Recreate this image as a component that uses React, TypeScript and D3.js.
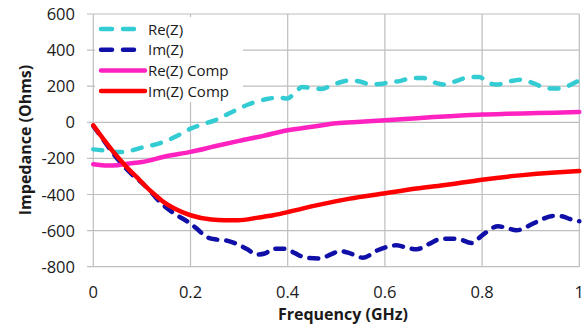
import React from 'react';
import * as d3 from 'd3';

// values
const reFreq = [0, 0.02, 0.04, 0.06, 0.08, 0.1, 0.12, 0.15, 0.18, 0.2, 0.22, 0.25, 0.28, 0.3, 0.32, 0.34, 0.36, 0.38, 0.4, 0.415, 0.43, 0.45, 0.47, 0.49, 0.51, 0.53, 0.55, 0.57, 0.59, 0.61, 0.63, 0.655, 0.68, 0.7, 0.72, 0.745, 0.775, 0.795, 0.81, 0.83, 0.857, 0.88, 0.908, 0.925, 0.94, 0.96, 0.98, 1.0];
const reZ = [-150, -155, -165, -165, -155, -140, -128, -103, -65, -35, -15, 11, 50, 76, 100, 118, 130, 138, 132, 165, 195, 190, 185, 205, 223, 233, 225, 210, 212, 222, 228, 245, 245, 222, 209, 227, 251, 251, 223, 209, 227, 236, 214, 195, 187, 187, 205, 233];

const imFreq = [0, 0.02, 0.04, 0.06, 0.08, 0.1, 0.12, 0.137, 0.167, 0.195, 0.21, 0.236, 0.255, 0.277, 0.3, 0.318, 0.335, 0.353, 0.37, 0.394, 0.415, 0.436, 0.466, 0.49, 0.508, 0.53, 0.555, 0.585, 0.605, 0.624, 0.645, 0.665, 0.69, 0.717, 0.748, 0.779, 0.8, 0.833, 0.85, 0.871, 0.905, 0.925, 0.946, 0.964, 0.98, 1.0];
const imZ = [-20, -95, -170, -235, -290, -335, -390, -441, -506, -552, -583, -639, -650, -657, -680, -705, -733, -727, -700, -700, -725, -750, -755, -730, -713, -728, -750, -709, -690, -681, -695, -704, -675, -645, -645, -669, -626, -576, -585, -598, -561, -535, -519, -521, -535, -548];

const reCompFreq = [0, 0.03, 0.05, 0.07, 0.1, 0.15, 0.2, 0.25, 0.3, 0.35, 0.4, 0.45, 0.5, 0.55, 0.6, 0.65, 0.7, 0.75, 0.8, 0.85, 0.9, 0.95, 1.0];
const reZComp = [-233, -240, -238, -230, -220, -188, -164, -133, -103, -75, -44, -25, -5, 3, 11, 20, 29, 36, 43, 47, 50, 53, 57];

const imCompFreq = [0, 0.02, 0.04, 0.061, 0.075, 0.09, 0.106, 0.126, 0.145, 0.167, 0.2, 0.243, 0.27, 0.298, 0.339, 0.37, 0.401, 0.43, 0.466, 0.528, 0.597, 0.665, 0.72, 0.8, 0.878, 0.95, 1.0];
const imZComp = [-17, -90, -160, -225, -266, -305, -350, -400, -442, -478, -515, -539, -543, -543, -528, -515, -497, -478, -456, -423, -395, -367, -349, -318, -294, -278, -270];

const xTicks = [0, 0.2, 0.4, 0.6, 0.8, 1];
const yTicks = [-800, -600, -400, -200, 0, 200, 400, 600];
const xTickLabels = ['0', '0.2', '0.4', '0.6', '0.8', '1'];

const series = [
    { name: 'Re(Z)', x: reFreq, y: reZ, color: '#33CCD2', dash: '9 11' },
    { name: 'Im(Z)', x: imFreq, y: imZ, color: '#1010A8', dash: '9 9' },
    { name: 'Re(Z) Comp', x: reCompFreq, y: reZComp, color: '#FF22C0', dash: null },
    { name: 'Im(Z) Comp', x: imCompFreq, y: imZComp, color: '#FF0000', dash: null },
];

const W = 587;
const H = 328;
const FONT = '"Open Sans", sans-serif';

const App = () => {
    const x = d3.scaleLinear().domain([0, 1]).range([93.3, 579.3]);
    const y = d3.scaleLinear().domain([-800, 600]).range([266.7, 14]);

    const line = d3.line<[number, number]>()
        .x(d => x(d[0]))
        .y(d => y(d[1]))
        .curve(d3.curveMonotoneX);

    const grid = '#BEBEBE';

    return (
        <svg width={W} height={H} style={{ position: 'absolute', left: 0, top: 0, background: '#fff' }}>
            {/* grid */}
            {yTicks.map(t => (
                <line key={'gy' + t} x1={87} x2={x(1)} y1={y(t)} y2={y(t)} stroke={grid} strokeWidth={1.2} />
            ))}
            {xTicks.map(t => (
                <line key={'gx' + t} x1={x(t)} x2={x(t)} y1={y(600)} y2={y(-800)} stroke={grid} strokeWidth={1.2} />
            ))}

            {/* tick labels */}
            {yTicks.map(t => (
                <text key={'ly' + t} x={75} y={y(t) + 6} textAnchor="end"
                    fontFamily={FONT} fontSize={16.5} fill="#1a1a1a">{t}</text>
            ))}
            {xTicks.map((t, i) => (
                <text key={'lx' + t} x={x(t)} y={298} textAnchor="middle"
                    fontFamily={FONT} fontSize={16.5} fill="#1a1a1a">{xTickLabels[i]}</text>
            ))}

            {/* axis titles */}
            <text x={343} y={320} textAnchor="middle" fontFamily={FONT} fontSize={16}
                fontWeight="bold" fill="#1a1a1a">Frequency (GHz)</text>
            <text transform="translate(31,140) rotate(-90)" textAnchor="middle" fontFamily={FONT}
                fontSize={16} fontWeight="bold" fill="#1a1a1a">Impedance (Ohms)</text>

            {/* series */}
            {series.map(s => (
                <path key={s.name}
                    d={line(s.x.map((f, i) => [f, s.y[i]] as [number, number])) || ''}
                    fill="none" stroke={s.color} strokeWidth={4.5}
                    strokeLinecap="round" strokeLinejoin="round"
                    strokeDasharray={s.dash || undefined} />
            ))}

            {/* legend */}
            <rect x={95} y={17} width={148} height={85} fill="#fff" />
            {series.map((s, i) => {
                const ly = 29 + i * 20.7;
                return (
                    <g key={'lg' + s.name}>
                        <line x1={101} x2={145} y1={ly} y2={ly} stroke={s.color} strokeWidth={4.5}
                            strokeLinecap="round" strokeDasharray={s.dash ? '11 11' : undefined} />
                        <text x={148} y={ly + 5.5} fontFamily={FONT} fontSize={15} fill="#1a1a1a">{s.name}</text>
                    </g>
                );
            })}
        </svg>
    );
};

export default App;
